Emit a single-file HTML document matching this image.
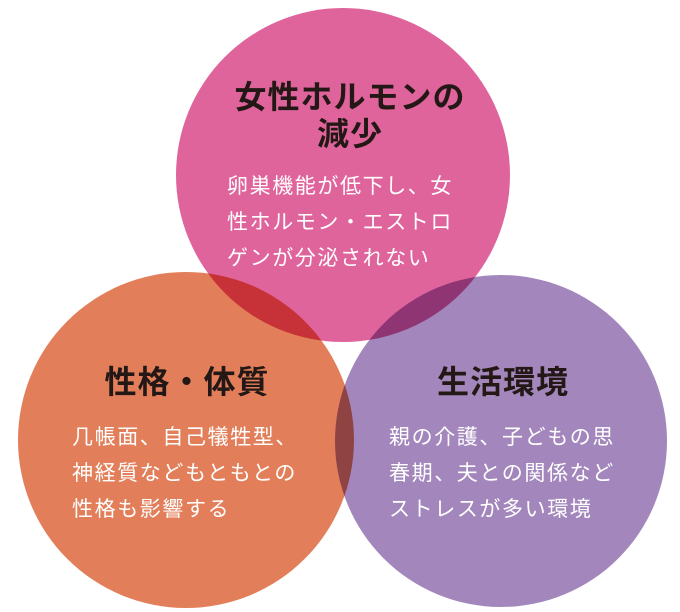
<!DOCTYPE html>
<html><head><meta charset="utf-8"><style>
html,body{margin:0;padding:0;background:#fff;}
.wrap{position:relative;width:680px;height:612px;overflow:hidden;font-family:"Liberation Sans","Noto Sans CJK JP",sans-serif;}
svg{position:absolute;left:0;top:0;}
.t{position:absolute;color:#231815;font-weight:bold;font-size:32px;line-height:37px;text-align:center;white-space:nowrap;letter-spacing:1px;}
.b{position:absolute;color:#fff;font-size:21px;line-height:36px;white-space:nowrap;letter-spacing:1.6px;}
</style></head><body><div class="wrap">
<svg width="680" height="612">
<g style="isolation:isolate">
<circle cx="343" cy="175" r="167" fill="#e0649c"/>
<circle cx="186" cy="440" r="168" fill="#e27f5a" style="mix-blend-mode:multiply"/>
<circle cx="501" cy="441" r="166" fill="#a387bc" style="mix-blend-mode:multiply"/>
</g>
</svg>
<div class="t" style="left:190px;width:320px;top:79px;">女性ホルモンの<br>減少</div>
<div class="b" style="left:227px;top:169px;">卵巣機能が低下し、女<br>性ホルモン・エストロ<br>ゲンが分泌されない</div>
<div class="t" style="left:37px;width:300px;top:364px;">性格・体質</div>
<div class="b" style="left:72px;top:420px;">几帳面、自己犠牲型、<br>神経質などもともとの<br>性格も影響する</div>
<div class="t" style="left:353px;width:300px;top:364px;">生活環境</div>
<div class="b" style="left:389px;top:420px;">親の介護、子どもの思<br>春期、夫との関係など<br>ストレスが多い環境</div>
</div></body></html>
